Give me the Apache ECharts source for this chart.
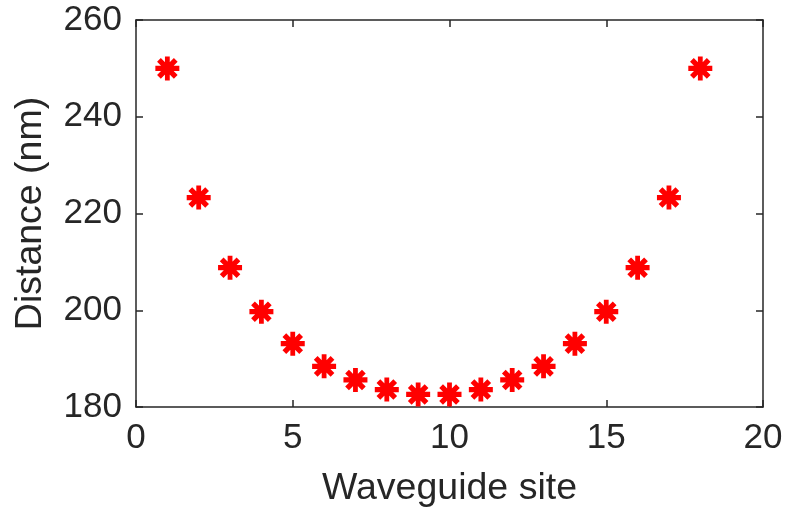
<!DOCTYPE html>
<html>
<head>
<meta charset="utf-8">
<script src="https://cdn.jsdelivr.net/npm/echarts@6/dist/echarts.min.js"></script>
<style>
  html, body { margin: 0; padding: 0; background: #fff; }
  #chart { width: 787px; height: 513px; }
</style>
</head>
<body>
<div id="chart"></div>
<script>
// Waveguide sites and the measured spacing at each site (nm)
const sites = [1, 2, 3, 4, 5, 6, 7, 8, 9, 10, 11, 12, 13, 14, 15, 16, 17, 18];
const distances = [250, 223.3, 208.8, 199.7, 193.1, 188.4, 185.6, 183.6, 182.6,
                   182.6, 183.6, 185.6, 188.4, 193.1, 199.7, 208.8, 223.3, 250];

const xTicks = [0, 5, 10, 15, 20];
const yTicks = [180, 200, 220, 240, 260];

const AXIS_COLOR = '#262626';
const FONT = 'Liberation Sans, Arial, Helvetica, sans-serif';

// Eight-spoke asterisk marker built from four overlapping bars
const asterisk = 'path://M40 0L60 0L60 100L40 100Z' +
  'M0 39L100 39L100 61L0 61Z' +
  'M22.8 7.2L92.8 77.2L77.2 92.8L7.2 22.8Z' +
  'M77.2 7.2L92.8 22.8L22.8 92.8L7.2 77.2Z';

const points = sites.map((s, i) => [s, distances[i]]);

const lineStyle = { color: AXIS_COLOR, width: 1.5 };
const tickStyle = { show: true, inside: true, length: 7, lineStyle: { color: AXIS_COLOR, width: 1.5 } };

const chart = echarts.init(document.getElementById('chart'), null, { renderer: 'canvas' });
chart.setOption({
  animation: false,
  backgroundColor: '#ffffff',
  grid: { left: 136, right: 24, top: 20, bottom: 106, containLabel: false },
  xAxis: [
    {
      type: 'value',
      position: 'bottom',
      min: xTicks[0], max: xTicks[xTicks.length - 1], interval: 5,
      name: 'Waveguide site',
      nameLocation: 'middle',
      nameGap: 63,
      nameTextStyle: { fontFamily: FONT, fontSize: 37.5, color: AXIS_COLOR },
      axisLine: { show: true, onZero: false, lineStyle },
      axisTick: tickStyle,
      axisLabel: { fontFamily: FONT, fontSize: 35, color: AXIS_COLOR, margin: 14 },
      splitLine: { show: false }
    },
    {
      type: 'value',
      position: 'top',
      min: xTicks[0], max: xTicks[xTicks.length - 1], interval: 5,
      axisLine: { show: true, onZero: false, lineStyle },
      axisTick: tickStyle,
      axisLabel: { show: false },
      splitLine: { show: false }
    }
  ],
  yAxis: [
    {
      type: 'value',
      position: 'left',
      min: yTicks[0], max: yTicks[yTicks.length - 1], interval: 20,
      name: 'Distance (nm)',
      nameLocation: 'middle',
      nameGap: 86,
      nameTextStyle: { fontFamily: FONT, fontSize: 37.5, color: AXIS_COLOR },
      axisLine: { show: true, onZero: false, lineStyle },
      axisTick: tickStyle,
      axisLabel: { fontFamily: FONT, fontSize: 35, color: AXIS_COLOR, margin: 14 },
      splitLine: { show: false }
    },
    {
      type: 'value',
      position: 'right',
      min: yTicks[0], max: yTicks[yTicks.length - 1], interval: 20,
      axisLine: { show: true, onZero: false, lineStyle },
      axisTick: tickStyle,
      axisLabel: { show: false },
      splitLine: { show: false }
    }
  ],
  series: [
    {
      type: 'scatter',
      xAxisIndex: 0,
      yAxisIndex: 0,
      data: points,
      symbol: asterisk,
      symbolSize: 24,
      itemStyle: { color: '#ff0000', opacity: 1 },
      z: 5
    }
  ]
});
</script>
</body>
</html>
